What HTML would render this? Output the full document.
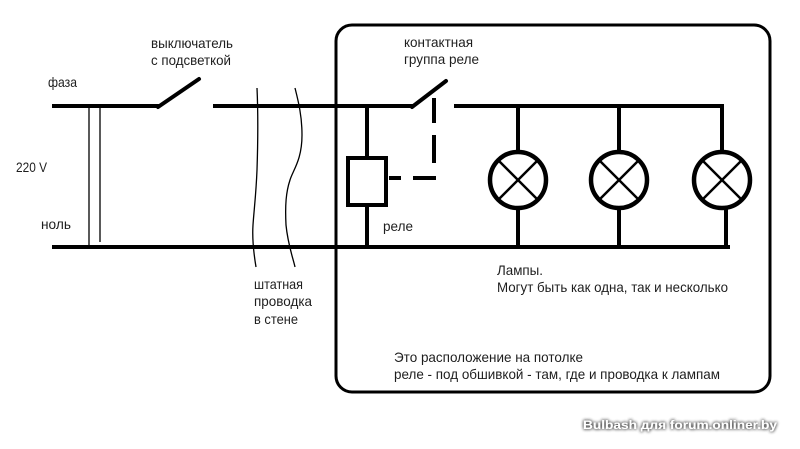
<!DOCTYPE html>
<html><head><meta charset="utf-8"><style>
html,body{margin:0;padding:0;background:#fff;}
svg{display:block;}
text{font-family:"Liberation Sans",Arial,sans-serif;font-size:14px;fill:#1e1e1e;}
</style></head><body>
<svg width="800" height="449" viewBox="0 0 800 449" xmlns="http://www.w3.org/2000/svg">
<defs>
<filter id="sh" x="-10%" y="-50%" width="120%" height="200%">
<feGaussianBlur in="SourceAlpha" stdDeviation="1.6" result="b"/>
<feFlood flood-color="#444" result="c"/>
<feComposite in="c" in2="b" operator="in" result="s"/>
<feMerge><feMergeNode in="s"/><feMergeNode in="s"/><feMergeNode in="SourceGraphic"/></feMerge>
</filter>
</defs>
<rect x="0" y="0" width="800" height="449" fill="#fff"/>
<!-- enclosure -->
<rect x="336" y="25" width="434" height="367" rx="16" ry="16" fill="none" stroke="#000" stroke-width="3"/>
<g stroke="#000" stroke-width="4" fill="none" stroke-linecap="butt">
<!-- phase -->
<line x1="52" y1="106" x2="159" y2="106"/>
<line x1="158" y1="107" x2="199" y2="79" stroke-linecap="round"/>
<line x1="213" y1="106" x2="413" y2="106"/>
<line x1="412" y1="107" x2="446" y2="81" stroke-linecap="round"/>
<line x1="454" y1="106" x2="724" y2="106"/>
<!-- neutral -->
<line x1="52" y1="247" x2="730" y2="247"/>
<!-- relay -->
<line x1="367" y1="106" x2="367" y2="157"/>
<line x1="367" y1="206" x2="367" y2="247"/>
<rect x="348" y="158" width="38" height="47"/>
<!-- lamps -->
<line x1="518" y1="106" x2="518" y2="152"/>
<line x1="518" y1="208" x2="518" y2="247"/>
<line x1="619" y1="106" x2="619" y2="152"/>
<line x1="619" y1="208" x2="619" y2="247"/>
<line x1="722" y1="104" x2="722" y2="152"/>
<line x1="726" y1="208" x2="726" y2="247"/>
<circle cx="518" cy="180" r="28" stroke-width="4.5"/>
<circle cx="619" cy="180" r="28" stroke-width="4.5"/>
<circle cx="722" cy="180" r="28" stroke-width="4.5"/>
</g>
<g stroke="#000" stroke-width="2.5">
<line x1="498" y1="160" x2="538" y2="200"/><line x1="538" y1="160" x2="498" y2="200"/>
<line x1="599" y1="160" x2="639" y2="200"/><line x1="639" y1="160" x2="599" y2="200"/>
<line x1="702" y1="160" x2="742" y2="200"/><line x1="742" y1="160" x2="702" y2="200"/>
</g>
<!-- dashed link -->
<g stroke="#000" stroke-width="4">
<line x1="389" y1="178" x2="401" y2="178"/>
<line x1="413" y1="178" x2="436" y2="178"/>
<line x1="434" y1="98" x2="434" y2="123"/>
<line x1="434" y1="135" x2="434" y2="163"/>
</g>
<!-- 220V thin lines -->
<g stroke="#000" stroke-width="1.3">
<line x1="89" y1="106" x2="89" y2="247"/>
<line x1="100" y1="106" x2="100" y2="242"/>
</g>
<!-- wall wavy lines -->
<g stroke="#000" stroke-width="1.3" fill="none">
<path d="M257,88 C258,110 258,140 257,170 C256,195 254,210 253,225 C252,240 254,255 256,267"/>
<path d="M295,88 C298,100 302,115 302,135 C302,160 293,170 290,180 C286,192 285,205 286,225 C288,245 293,258 295,267"/>
</g>
<!-- labels -->
<text x="151" y="48" textLength="82" lengthAdjust="spacingAndGlyphs">выключатель</text>
<text x="151" y="65" textLength="80" lengthAdjust="spacingAndGlyphs">с подсветкой</text>
<text x="48" y="87" textLength="29" lengthAdjust="spacingAndGlyphs">фаза</text>
<text x="16" y="172" textLength="31" lengthAdjust="spacingAndGlyphs">220 V</text>
<text x="41" y="229" textLength="30" lengthAdjust="spacingAndGlyphs">ноль</text>
<text x="404" y="47" textLength="69" lengthAdjust="spacingAndGlyphs">контактная</text>
<text x="404" y="64" textLength="75" lengthAdjust="spacingAndGlyphs">группа реле</text>
<text x="383" y="231" textLength="30" lengthAdjust="spacingAndGlyphs">реле</text>
<text x="254" y="289" textLength="49" lengthAdjust="spacingAndGlyphs">штатная</text>
<text x="254" y="306" textLength="58" lengthAdjust="spacingAndGlyphs">проводка</text>
<text x="254" y="324" textLength="44" lengthAdjust="spacingAndGlyphs">в стене</text>
<text x="497" y="275" textLength="46" lengthAdjust="spacingAndGlyphs">Лампы.</text>
<text x="497" y="292" textLength="231" lengthAdjust="spacingAndGlyphs">Могут быть как одна, так и несколько</text>
<text x="394" y="362" textLength="189" lengthAdjust="spacingAndGlyphs">Это расположение на потолке</text>
<text x="394" y="379" textLength="326" lengthAdjust="spacingAndGlyphs">реле - под обшивкой - там, где и проводка к лампам</text>
<!-- watermark -->
<text x="583" y="429" textLength="194" lengthAdjust="spacingAndGlyphs" filter="url(#sh)" style="font-size:12px;font-weight:bold;fill:#fff;">Bulbash для forum.onliner.by</text>
</svg>
</body></html>
